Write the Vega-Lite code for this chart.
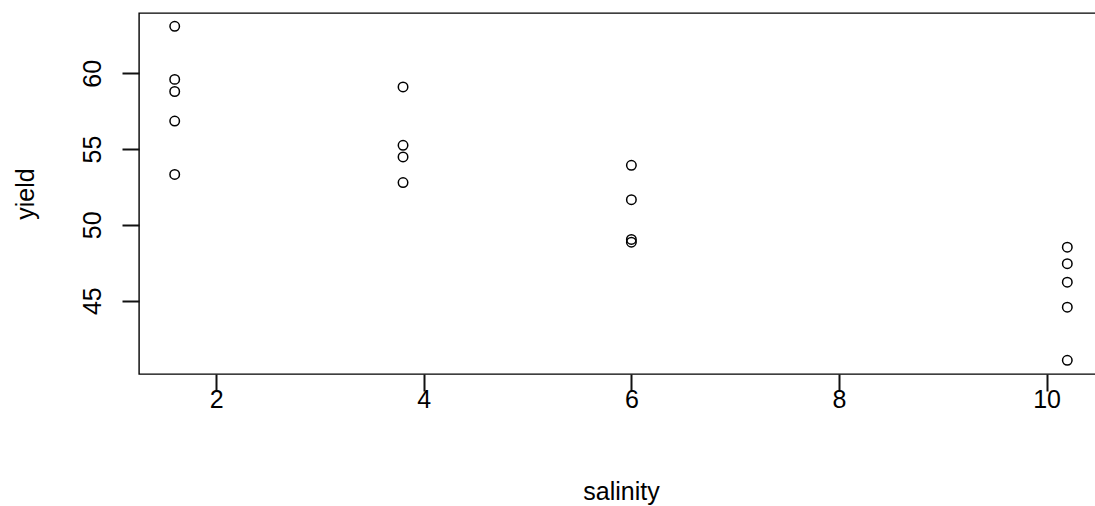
{
  "$schema": "https://vega.github.io/schema/vega-lite/v6.json",
  "autosize": {"type": "none"},
  "padding": {"left": 139, "top": 13, "right": 0, "bottom": 132},
  "width": 964,
  "height": 361,
  "background": "white",
  "config": {
    "view": {"stroke": "black", "strokeWidth": 1.4},
    "font": "Liberation Sans",
    "axis": {"ticks": true, "tickSize": 17, "tickColor": "#111111", "tickWidth": 2, "tickOpacity": 1, "domain": false, "grid": false}
  },
  "data": {
    "values": [
      {"salinity": 1.6, "yield": 63.1},
      {"salinity": 1.6, "yield": 59.6},
      {"salinity": 1.6, "yield": 58.8},
      {"salinity": 1.6, "yield": 56.85},
      {"salinity": 1.6, "yield": 53.33},
      {"salinity": 3.8, "yield": 59.1},
      {"salinity": 3.8, "yield": 55.25},
      {"salinity": 3.8, "yield": 54.48},
      {"salinity": 3.8, "yield": 52.79},
      {"salinity": 6.0, "yield": 53.93},
      {"salinity": 6.0, "yield": 51.66},
      {"salinity": 6.0, "yield": 49.04},
      {"salinity": 6.0, "yield": 48.86},
      {"salinity": 10.2, "yield": 48.53},
      {"salinity": 10.2, "yield": 47.44},
      {"salinity": 10.2, "yield": 46.22},
      {"salinity": 10.2, "yield": 44.57},
      {"salinity": 10.2, "yield": 41.06}
    ]
  },
  "mark": {"type": "point", "shape": "circle", "filled": false, "color": "black", "size": 90, "strokeWidth": 1.5, "opacity": 1},
  "encoding": {
    "x": {
      "field": "salinity", "type": "quantitative",
      "scale": {"domain": [1.256, 10.544], "nice": false, "zero": false},
      "axis": {
        "values": [2, 4, 6, 8, 10],
        "labelFontSize": 25, "labelColor": "black", "labelBaseline": "alphabetic", "labelPadding": 16,
        "title": "salinity", "titleFontSize": 25, "titleFontWeight": "normal", "titleColor": "black",
        "titleBaseline": "alphabetic", "titleX": 482, "titleY": 125, "titleAnchor": "middle", "titleAlign": "center"
      }
    },
    "y": {
      "field": "yield", "type": "quantitative",
      "scale": {"domain": [40.16, 63.98], "nice": false, "zero": false},
      "axis": {
        "values": [45, 50, 55, 60],
        "labelFontSize": 25, "labelColor": "black", "labelAngle": -90, "labelAlign": "center", "labelBaseline": "alphabetic", "labelPadding": 22,
        "title": "yield", "titleFontSize": 25, "titleFontWeight": "normal", "titleColor": "black",
        "titleAngle": -90, "titleBaseline": "alphabetic", "titleAlign": "center", "titleX": -106, "titleY": 180.5
      }
    }
  }
}
